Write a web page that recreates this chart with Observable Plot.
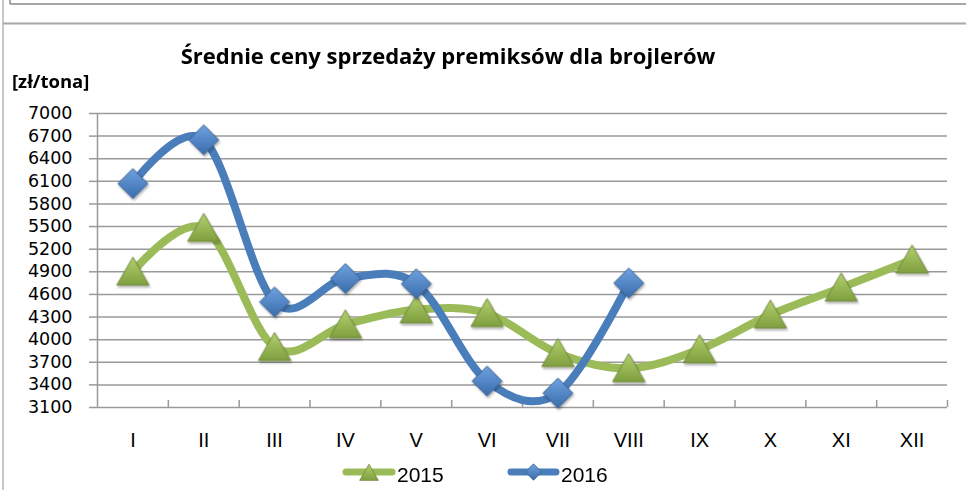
<!DOCTYPE html>
<html>
<head>
<meta charset="utf-8">
<script src="https://cdn.jsdelivr.net/npm/d3@7"></script>
<script src="https://cdn.jsdelivr.net/npm/@observablehq/plot@0.6"></script>
<style>
  html, body { margin: 0; padding: 0; background: #fff; }
  #wrap { position: relative; width: 966px; height: 490px; overflow: hidden; }
  #wrap > svg { position: absolute; left: 0; top: 0; }
</style>
</head>
<body>
<div id="wrap"></div>
<script>
const months = ["I","II","III","IV","V","VI","VII","VIII","IX","X","XI","XII"];
const v2015 = [4900, 5480, 3900, 4200, 4400, 4350, 3820, 3620, 3870, 4330, 4690, 5060];
const v2016 = [6070, 6650, 4500, 4810, 4740, 3450, 3290, 4750];
const yTicks = d3.range(3100, 7001, 300);
const seriesNames = ["2015", "2016"];
const title = "Średnie ceny sprzedaży premiksów dla brojlerów";
const unit = "[zł/tona]";

const green = "#9bbb59", greenDark = "#71893f";
const blue = "#4a7ebb", blueDark = "#385d8a";
const grid = "#9a9a9a";

const idx = (d, i) => i + 1;
const boundaries = d3.range(1.5, 12.51, 1);

const chart = Plot.plot({
  width: 966,
  height: 490,
  marginLeft: 97,
  marginRight: 19,
  marginTop: 113,
  marginBottom: 83,
  style: { fontFamily: "DejaVu Sans", fontSize: "17px", color: "#000", background: "transparent" },
  x: { domain: [0.5, 12.5] },
  y: { domain: [3100, 7000] },
  marks: [
    Plot.gridY(yTicks, { stroke: grid, strokeOpacity: 1, strokeWidth: 1.5 }),
    Plot.axisY(yTicks, { tickSize: 8, tickPadding: 17, tickFormat: d => String(d), stroke: grid, strokeWidth: 1.5, fontSize: 17.5, fontFamily: "DejaVu Sans", fill: "#000", label: null }),
    Plot.ruleX([0.5], { stroke: grid, strokeWidth: 1.5 }),
    Plot.ruleX(boundaries, { stroke: grid, strokeWidth: 1.5, insetTop: 287 }),
    Plot.axisX(d3.range(1, 13), { tickSize: 0, tickPadding: 25, tickFormat: i => months[i - 1], fontSize: 20, fontFamily: "Liberation Sans", fill: "#000", label: null }),
    Plot.line(v2015, { x: idx, y: d => d, stroke: green, strokeWidth: 8, curve: "cardinal" }),
    Plot.dot(v2015, { x: idx, y: d => d, symbol: "triangle", r: 12, dy: 4, fill: "url(#gradGreen)", stroke: greenDark, strokeWidth: 1 }),
    Plot.line(v2016, { x: idx, y: d => d, stroke: blue, strokeWidth: 8, curve: "cardinal" }),
    Plot.dot(v2016, { x: idx, y: d => d, symbol: "diamond2", r: 13.5, fill: "url(#gradBlue)", stroke: blueDark, strokeWidth: 1 })
  ]
});

const svgSel = d3.select(chart);
const defs = svgSel.insert("defs", ":first-child");
const gg = defs.append("linearGradient").attr("id", "gradGreen").attr("x1", 0).attr("y1", 0).attr("x2", 0).attr("y2", 1);
gg.append("stop").attr("offset", "0%").attr("stop-color", "#b3d06e");
gg.append("stop").attr("offset", "100%").attr("stop-color", "#7f9f3e");
const gb = defs.append("linearGradient").attr("id", "gradBlue").attr("x1", 0).attr("y1", 0).attr("x2", 0).attr("y2", 1);
gb.append("stop").attr("offset", "0%").attr("stop-color", "#6fa2e0");
gb.append("stop").attr("offset", "100%").attr("stop-color", "#3a6cab");
const f = defs.append("filter").attr("id", "shadow").attr("x", "-30%").attr("y", "-30%").attr("width", "160%").attr("height", "160%");
f.append("feDropShadow").attr("dx", 1).attr("dy", 2).attr("stdDeviation", 1.2).attr("flood-color", "#000").attr("flood-opacity", 0.3);
svgSel.selectAll('g[aria-label="dot"]').attr("filter", "url(#shadow)");

const wrap = document.getElementById("wrap");
wrap.appendChild(chart);

// Overlay: frame, title, unit label, legend
const ov = d3.select(wrap).append("svg").attr("width", 966).attr("height", 490);
ov.append("line").attr("x1", 3).attr("x2", 3).attr("y1", 0).attr("y2", 490).attr("stroke", "#c8c8c8").attr("stroke-width", 2);
ov.append("line").attr("x1", 10).attr("x2", 10).attr("y1", 0).attr("y2", 4).attr("stroke", "#8a8a8a").attr("stroke-width", 1.5);
ov.append("line").attr("x1", 10).attr("x2", 966).attr("y1", 4).attr("y2", 4).attr("stroke", "#8a8a8a").attr("stroke-width", 1.5);
ov.append("line").attr("x1", 3).attr("x2", 966).attr("y1", 23.5).attr("y2", 23.5).attr("stroke", "#a8a8a8").attr("stroke-width", 2);

ov.append("text").attr("x", 448).attr("y", 64).attr("text-anchor", "middle")
  .attr("font-family", "Open Sans").attr("font-weight", "bold").attr("font-size", 22).text(title);
ov.append("text").attr("x", 12).attr("y", 88)
  .attr("font-family", "Open Sans").attr("font-weight", "bold").attr("font-size", 18.5).text(unit);

const leg = [
  { name: seriesNames[0], x0: 343, x1: 395, color: green, dark: greenDark, fill: "url(#lgGreen)", sym: d3.symbolTriangle, size: 150, dy: 3 },
  { name: seriesNames[1], x0: 508, x1: 559, color: blue, dark: blueDark, fill: "url(#lgBlue)", sym: d3.symbolDiamond2, size: 170, dy: 0 }
];
const odefs = ov.append("defs");
const lg1 = odefs.append("linearGradient").attr("id", "lgGreen").attr("x1", 0).attr("y1", 0).attr("x2", 0).attr("y2", 1);
lg1.append("stop").attr("offset", "0%").attr("stop-color", "#b3d06e");
lg1.append("stop").attr("offset", "100%").attr("stop-color", "#7f9f3e");
const lg2 = odefs.append("linearGradient").attr("id", "lgBlue").attr("x1", 0).attr("y1", 0).attr("x2", 0).attr("y2", 1);
lg2.append("stop").attr("offset", "0%").attr("stop-color", "#6fa2e0");
lg2.append("stop").attr("offset", "100%").attr("stop-color", "#3a6cab");
leg.forEach(l => {
  const g = ov.append("g");
  g.append("line").attr("x1", l.x0 + 3).attr("x2", l.x1 - 3).attr("y1", 472).attr("y2", 472)
    .attr("stroke", l.color).attr("stroke-width", 7).attr("stroke-linecap", "round");
  g.append("path").attr("d", d3.symbol(l.sym, l.size)())
    .attr("transform", `translate(${(l.x0 + l.x1) / 2},${472 + l.dy})`)
    .attr("fill", l.fill).attr("stroke", l.dark).attr("stroke-width", 0.8);
  g.append("text").attr("x", l.x1 + 2).attr("y", 482).attr("font-family", "Liberation Sans").attr("font-size", 21).text(l.name);
});
</script>
</body>
</html>
